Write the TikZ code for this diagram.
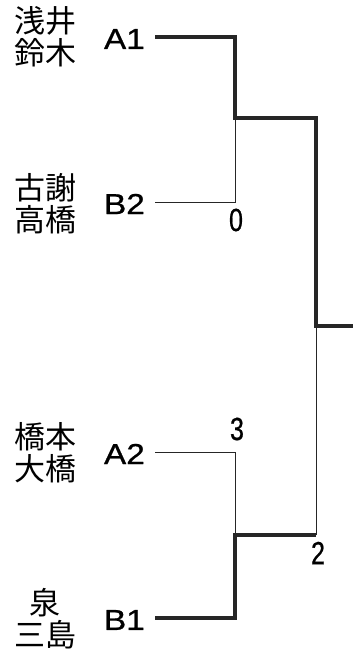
\documentclass[tikz,border=0pt]{standalone}
\usepackage{fontspec}
\setmainfont{Liberation Sans}
\newfontfamily\heavy[FakeBold=0.8]{Liberation Sans}
\newfontfamily\jp{Noto Sans CJK JP}
\newcommand{\widetxt}[1]{\scalebox{1.15}[1]{#1}}
\newcommand{\narrowtxt}[1]{\scalebox{0.78}[1]{#1}}
\begin{document}
\begin{tikzpicture}[x=1pt,y=-1pt,
  win/.style={line width=4pt, line join=miter, draw=black!85},
  lose/.style={line width=1pt, draw=black!85},
  team/.style={font=\heavy\fontsize{29}{29}\selectfont, anchor=east, inner sep=0pt},
  pname/.style={font=\jp\fontsize{31}{32}\selectfont, align=center, inner sep=0pt},
  score/.style={font=\heavy\fontsize{32}{32}\selectfont, inner sep=0pt}]
\useasboundingbox (0,0) rectangle (353,654);
% names
\node[pname] (n1) at (45,37) {浅井\\鈴木};
\node[pname] (n2) at (45,204) {古謝\\高橋};
\node[pname] (n3) at (45,453) {橋本\\大橋};
\node[pname] (n4) at (45,619) {泉\\三島};
% team labels
\node[team] (t1) at (145,39) {\widetxt{A1}};
\node[team] (t2) at (145,204) {\widetxt{B2}};
\node[team] (t3) at (145,454) {\widetxt{A2}};
\node[team] (t4) at (145,620) {\widetxt{B1}};
% connector ends
\coordinate (a1) at (155,37);
\coordinate (b2) at (155,202);
\coordinate (a2) at (155,452);
\coordinate (b1) at (155,618);
\coordinate (m1) at (235,118);
\coordinate (m2) at (235,535);
\coordinate (f) at (316,326);
\coordinate (s2) at (316,535);
\coordinate (end) at (353,326);
% losing lines
\draw[lose] (b2) -| (m1);
\draw[lose] (a2) -| (m2);
\draw[lose] (s2) -- (f);
% winning lines
\draw[win] (a1) -| (m1) -| (f) -- (end);
\draw[win] (b1) -| (m2) -- (s2);
% scores
\node[score] (sc1) at (236,220) {\narrowtxt{0}};
\node[score] (sc2) at (237,429) {\narrowtxt{3}};
\node[score] (sc3) at (318,553) {\narrowtxt{2}};
\end{tikzpicture}
\end{document}
